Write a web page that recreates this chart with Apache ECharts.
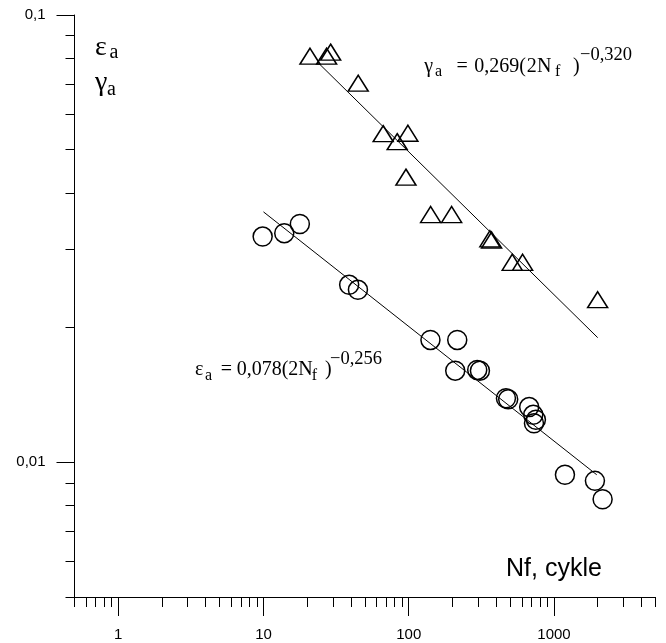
<!DOCTYPE html>
<html><head><meta charset="utf-8">
<script src="https://cdn.jsdelivr.net/npm/echarts@6/dist/echarts.min.js"></script>
<style>html,body{margin:0;padding:0;background:#fff}#c{width:666px;height:643px}</style>
</head><body><div id="c"></div>
<script>
// ---- data (log-log) ----
const gammaNf = [20.9, 27.2, 29.0, 44.9, 66.7, 83.3, 98.7, 95.7, 141.5, 197.4, 362, 372, 516, 608, 1998];
const gammaA  = [0.0809, 0.0809, 0.0826, 0.0704, 0.0543, 0.0521, 0.0544, 0.0434, 0.0358, 0.0358, 0.0316, 0.0314, 0.0280, 0.0280, 0.0231];

const epsNf = [9.87, 13.9, 17.8, 38.9, 44.7, 141.1, 215.8, 209.0, 296.2, 309.2, 467, 484, 675, 720, 751, 728, 1190, 1914, 2162];
const epsA  = [0.03196, 0.03253, 0.0341, 0.02493, 0.0243, 0.01878, 0.01878, 0.01603, 0.01609, 0.01603, 0.01391, 0.01384, 0.01329, 0.01277, 0.01245, 0.01223, 0.00938, 0.00909, 0.00827];

const gammaFitNf = [24, 2000];
const gammaFitA  = [0.078, 0.0190];
const epsFitNf = [10, 1970];
const epsFitA  = [0.0363, 0.00938];

const xMajorTicks = [1, 10, 100, 1000];
const xTickLabels = ['1', '10', '100', '1000'];
const xMinorTicks = [0.5, 0.6, 0.7, 0.8, 0.9, 2, 3, 4, 5, 6, 7, 8, 9, 20, 30, 40, 50, 60, 70, 80, 90,
                     200, 300, 400, 500, 600, 700, 800, 900, 2000, 3000, 4000, 5000];
const yMajorTicks = [0.01, 0.1];
const yTickLabels = ['0,01', '0,1'];
const yMinorTicks = [0.005, 0.006, 0.007, 0.008, 0.009, 0.02, 0.03, 0.04, 0.05, 0.06, 0.07, 0.08, 0.09];

// ---- chart ----
const SANS = '"Liberation Sans", Arial, sans-serif';
const SERIF = '"Liberation Serif", "Times New Roman", serif';
const chart = echarts.init(document.getElementById('c'), null, {renderer: 'canvas'});

function pairs(a, b) { return a.map((v, i) => [v, b[i]]); }
function labelFrom(ticks, labels) {
  return function (v) {
    for (let i = 0; i < ticks.length; i++) if (Math.abs(v - ticks[i]) / ticks[i] < 1e-6) return labels[i];
    return '';
  };
}

const gridRect = {left: 74.5, top: 15, width: 581, height: 582};

function xAxisBase(gi) {
  return {type: 'log', logBase: 10, min: 0.5, max: 5000, gridIndex: gi, position: 'bottom',
    splitLine: {show: false}, minorTick: {show: false}, minorSplitLine: {show: false}};
}
function yAxisBase(gi) {
  return {type: 'log', logBase: 10, min: 0.005, max: 0.1, gridIndex: gi, position: 'left',
    splitLine: {show: false}, minorTick: {show: false}, minorSplitLine: {show: false}};
}

// text pieces (annotation) : [text, x, baseline, size, family]
function textPieces(list) {
  return list.map(p => ({
    type: 'text', silent: true,
    style: {text: p[0], x: p[1], y: p[2] - 0.33 * p[3], fontSize: p[3], fontFamily: p[4] || SERIF,
      fill: '#000', align: 'left', verticalAlign: 'middle'}
  }));
}

const graphics = [].concat(
  textPieces([
    ['ε', 95, 57, 28], ['a', 109.5, 59.5, 20],
    ['γ', 95, 92, 28], ['a', 107, 96.7, 20],
    // gamma equation
    ['γ', 424.3, 73.3, 20], ['a', 435, 77.3, 16], ['=', 456.5, 73.3, 20], ['0,269', 474.3, 73.3, 20],
    ['(', 519.3, 73.3, 20], ['2', 526.7, 73.3, 20], ['N', 537, 73.3, 20], ['f', 555, 77.3, 16],
    [')', 573, 73.3, 20], ['−0,320', 580, 61.7, 18.5],
    // epsilon equation
    ['ε', 195, 376.7, 20], ['a', 205, 380.7, 16], ['=', 220.7, 376.7, 20], ['0,078', 236.7, 376.7, 20],
    ['(', 281.7, 376.7, 20], ['2', 288.3, 376.7, 20], ['N', 298.3, 376.7, 20], ['f', 311.7, 380.7, 16],
    [')', 325, 376.7, 20], ['−0,256', 330, 365, 18.5],
    ['Nf, cykle', 506, 577.3, 25, SANS]
  ])
);

const markerStyle = {color: 'rgba(0,0,0,0)', borderColor: '#000', borderWidth: 1.5, opacity: 1};

chart.setOption({
  animation: false,
  backgroundColor: '#fff',
  grid: [
    Object.assign({containLabel: false}, gridRect),
    Object.assign({containLabel: false}, gridRect)
  ],
  xAxis: [
    Object.assign(xAxisBase(0), {
      axisLine: {show: true, lineStyle: {color: '#000', width: 1}},
      axisTick: {show: true, customValues: xMajorTicks, length: 19, lineStyle: {color: '#000', width: 1}},
      axisLabel: {show: true, customValues: xMajorTicks, formatter: labelFrom(xMajorTicks, xTickLabels),
        margin: 30, fontSize: 15, color: '#000', fontFamily: SANS}
    }),
    Object.assign(xAxisBase(1), {
      axisLine: {show: false},
      axisTick: {show: true, customValues: xMinorTicks, length: 10, lineStyle: {color: '#000', width: 1}},
      axisLabel: {show: false}
    })
  ],
  yAxis: [
    Object.assign(yAxisBase(0), {
      axisLine: {show: true, lineStyle: {color: '#000', width: 1}},
      axisTick: {show: true, customValues: yMajorTicks, length: 18, lineStyle: {color: '#000', width: 1}},
      axisLabel: {show: true, customValues: yMajorTicks, formatter: labelFrom(yMajorTicks, yTickLabels),
        margin: 29, fontSize: 15, color: '#000', fontFamily: SANS}
    }),
    Object.assign(yAxisBase(1), {
      axisLine: {show: false},
      axisTick: {show: true, customValues: yMinorTicks, length: 9, lineStyle: {color: '#000', width: 1}},
      axisLabel: {show: false}
    })
  ],
  series: [
    {type: 'line', name: 'gamma fit', xAxisIndex: 0, yAxisIndex: 0, data: pairs(gammaFitNf, gammaFitA),
      showSymbol: false, symbol: 'none', lineStyle: {color: '#000', width: 1}, silent: true},
    {type: 'line', name: 'eps fit', xAxisIndex: 0, yAxisIndex: 0, data: pairs(epsFitNf, epsFitA),
      showSymbol: false, symbol: 'none', lineStyle: {color: '#000', width: 1}, silent: true},
    {type: 'scatter', name: 'gamma_a', xAxisIndex: 0, yAxisIndex: 0, data: pairs(gammaNf, gammaA),
      symbol: 'triangle', symbolSize: [20, 16], itemStyle: markerStyle, silent: true},
    {type: 'scatter', name: 'eps_a', xAxisIndex: 0, yAxisIndex: 0, data: pairs(epsNf, epsA),
      symbol: 'circle', symbolSize: 19, itemStyle: markerStyle, silent: true}
  ],
  graphic: graphics
});
</script>
</body></html>
